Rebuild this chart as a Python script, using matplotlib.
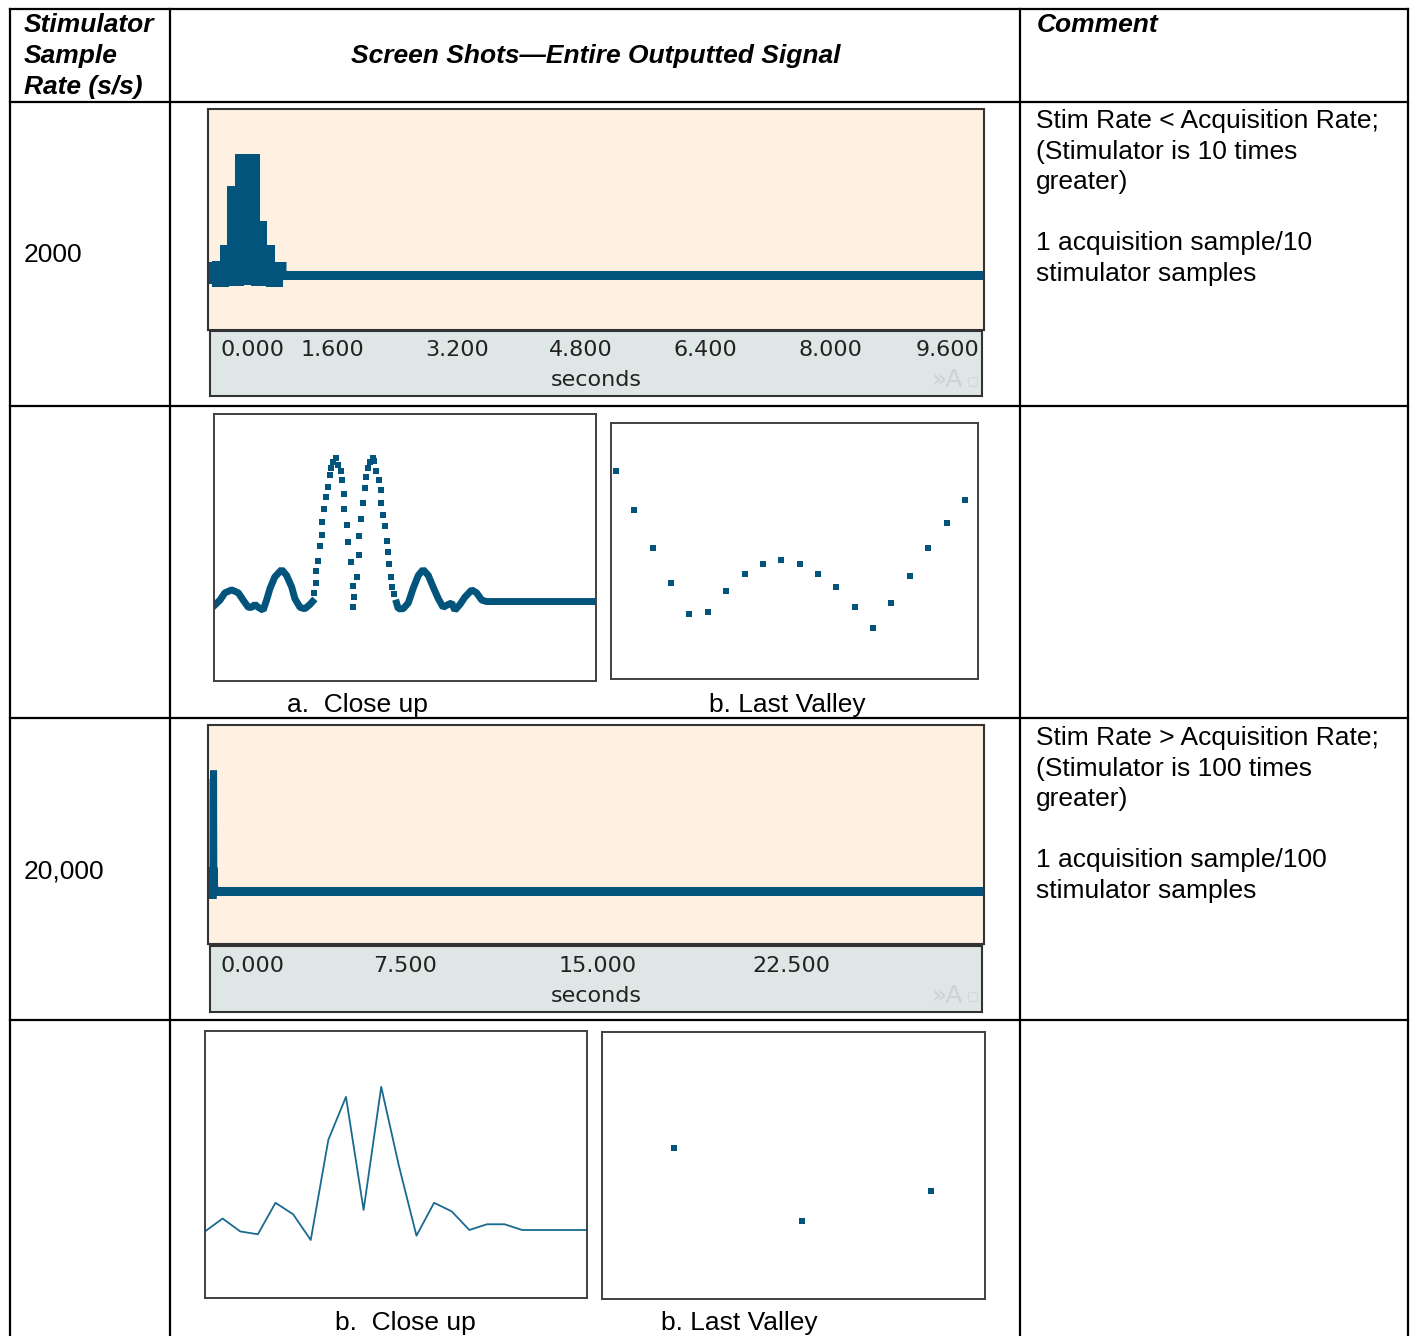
import matplotlib
matplotlib.use("Agg")
import numpy as np
import matplotlib.pyplot as plt
from matplotlib.transforms import blended_transform_factory, offset_copy

plt.rcParams['font.family'] = ['Liberation Sans', 'DejaVu Sans']

# ---------------- data ----------------
row_rates = ["2000", "20,000"]

# close-up a (2000 s/s): slow parts drawn as a thick trace, steep part as single samples
closeup_a_slow1_t = [0, 21, 38, 62, 85, 102, 120, 132, 143, 155, 172, 184, 196, 213, 237,
                     254, 272, 283, 301, 318, 336, 345]
closeup_a_slow1_v = [-0.02, 0.02, 0.07, 0.09, 0.07, 0.02, -0.03, -0.03, -0.01, -0.03, -0.05,
                     0.02, 0.10, 0.18, 0.23, 0.19, 0.11, 0.03, -0.03, -0.04, -0.01, 0.01]
closeup_a_dots_t = [351, 357, 357, 365, 371, 378, 378, 385, 392, 400,
                    406, 408, 418, 427, 435, 443, 449, 455, 456, 464,
                    470, 478, 485, 485, 490, 499, 506, 506, 513, 520,
                    527, 532, 538, 546, 555, 561, 567, 577, 583, 583,
                    590, 598, 604, 610, 611, 618, 623, 631]
closeup_a_dots_v = [0.07, 0.14, 0.22, 0.29, 0.39, 0.47, 0.56, 0.65, 0.73, 0.80,
                    0.88, 0.93, 0.97, 1.00, 0.95, 0.91, 0.85, 0.75, 0.65, 0.54,
                    0.42, 0.28, 0.12, -0.03, 0.04, 0.18, 0.33, 0.46, 0.58, 0.69,
                    0.79, 0.87, 0.93, 0.97, 1.00, 0.98, 0.91, 0.85, 0.78, 0.69,
                    0.61, 0.53, 0.43, 0.35, 0.27, 0.18, 0.11, 0.06]
closeup_a_slow2_t = [639, 645, 662, 680, 697, 715, 732, 750, 767, 785, 802, 820, 832, 843,
                     861, 878, 902, 919, 937, 954, 1340]
closeup_a_slow2_v = [0.00, -0.04, -0.04, 0.00, 0.10, 0.19, 0.23, 0.19, 0.11, 0.03, -0.03,
                     -0.01, 0.00, -0.05, -0.01, 0.04, 0.09, 0.07, 0.02, 0.01, 0.01]

# last valley a (2000 s/s)
valley_a_idx = [1, 2, 3, 4, 5, 6, 7, 8, 9, 10, 11, 12, 13, 14, 15, 16, 17, 18, 19, 20]
valley_a_v = [208, 169, 131, 96, 65, 67, 88, 105, 115, 119, 115, 105, 92, 72, 51, 76, 103,
              131, 156, 179]

# close-up b (20,000 s/s)
closeup_b_t = [0, 62, 124, 186, 248, 310, 372, 434, 496, 558, 620, 682, 744, 806, 868, 930,
               992, 1054, 1116, 1178, 1240, 1302, 1364]
closeup_b_v = [-0.01, 0.08, -0.01, -0.03, 0.19, 0.11, -0.07, 0.63, 0.93, 0.14, 1.00, 0.45,
               -0.04, 0.19, 0.13, 0.00, 0.04, 0.04, 0.00, 0.00, 0.00, 0.00, 0.00]

# last valley b (20,000 s/s)
valley_b_idx = [1, 2, 3]
valley_b_v = [151, 78, 108]

# axis ticks of the full-signal screenshots
ticks_2000 = [0.0, 1.6, 3.2, 4.8, 6.4, 8.0, 9.6]
ticklabels_2000 = ["0.000", "1.600", "3.200", "4.800", "6.400", "8.000", "9.600"]
ticks_20000 = [0.0, 7.5, 15.0, 22.5]
ticklabels_20000 = ["0.000", "7.500", "15.000", "22.500"]

comment_2000 = ["Stim Rate < Acquisition Rate;", "(Stimulator is 10 times", "greater)", "",
                "1 acquisition sample/10", "stimulator samples"]
comment_20000 = ["Stim Rate > Acquisition Rate;", "(Stimulator is 100 times", "greater)", "",
                 "1 acquisition sample/100", "stimulator samples"]

# ---------------- style ----------------
SIG = '#02547C'
PEACH = '#FEF1E2'
STRIP = '#DEE6E6'
FS = 19

W, H = 1416, 1336
fig = plt.figure(figsize=(W / 100, H / 100), dpi=100)


def px_axes(x0, y0, x1, y1, **kw):
    return fig.add_axes([x0 / W, 1 - y1 / H, (x1 - x0) / W, (y1 - y0) / H], **kw)


# ---------------- table ----------------
tab = px_axes(0, 0, W, H)
tab.set_xlim(0, W)
tab.set_ylim(H, 0)
tab.axis('off')
lw_tab = 1.6
for yy in [9, 102, 406, 718, 1020]:
    tab.plot([10, 1408], [yy, yy], color='black', lw=lw_tab, solid_capstyle='projecting')
for xx in [10, 170, 1020, 1408]:
    tab.plot([xx, xx], [9, H + 5], color='black', lw=lw_tab, solid_capstyle='projecting')

hdr = dict(fontsize=FS, fontweight='bold', fontstyle='italic', va='center')
for i, line in enumerate(["Stimulator", "Sample", "Rate (s/s)"]):
    tab.text(24, 25 + i * 31, line, ha='left', **hdr)
tab.text(596, 56, "Screen Shots\u2014Entire Outputted Signal", ha='center', **hdr)
tab.text(1037, 25, "Comment", ha='left', **hdr)

tab.text(24, 255, row_rates[0], fontsize=FS, va='center', ha='left')
tab.text(24, 871, row_rates[1], fontsize=FS, va='center', ha='left')

for i, line in enumerate(comment_2000):
    tab.text(1036, 121 + i * 30.6, line, fontsize=FS, va='center', ha='left')
for i, line in enumerate(comment_20000):
    tab.text(1036, 738 + i * 30.6, line, fontsize=FS, va='center', ha='left')

tab.text(357, 705, "a.  Close up", fontsize=FS, va='center', ha='center')
tab.text(787, 705, "b. Last Valley", fontsize=FS, va='center', ha='center')
tab.text(405, 1323, "b.  Close up", fontsize=FS, va='center', ha='center')
tab.text(739, 1323, "b. Last Valley", fontsize=FS, va='center', ha='center')


def style_box(ax, face='white', color='#404040', lw=1.4):
    ax.set_facecolor(face)
    ax.set_xticks([])
    ax.set_yticks([])
    for s in ax.spines.values():
        s.set_color(color)
        s.set_linewidth(lw)


def strip_labels(ax_main, ax_strip, ticks, labels):
    trans = blended_transform_factory(ax_main.transData, ax_strip.transAxes)
    xmin, xmax = ax_main.get_xlim()
    x0p, x1p = ax_strip.get_position().x0 * W, ax_strip.get_position().x1 * W
    m0 = ax_main.get_position().x0 * W
    m1 = ax_main.get_position().x1 * W
    kw = dict(va='center', fontsize=16, family='DejaVu Sans', color='#222222')
    for v, lab in zip(ticks, labels):
        cpx = m0 + (v - xmin) / (xmax - xmin) * (m1 - m0)
        half = 4.2 * len(lab) + 10
        if cpx - half < x0p + 4:
            tr = offset_copy(ax_strip.transAxes, fig=fig, x=10, y=0, units='dots')
            ax_strip.text(0, 0.70, lab, transform=tr, ha='left', **kw)
        elif cpx + half > x1p - 2:
            tr = offset_copy(ax_strip.transAxes, fig=fig, x=-3, y=0, units='dots')
            ax_strip.text(1, 0.70, lab, transform=tr, ha='right', **kw)
        else:
            ax_strip.text(v, 0.70, lab, transform=trans, ha='center', **kw)
    ax_strip.text(0.5, 0.24, "seconds", transform=ax_strip.transAxes, ha='center', **kw)
    ax_strip.text(0.955, 0.24, "\u00bbA", transform=ax_strip.transAxes, ha='center',
                  va='center', fontsize=18, family='DejaVu Sans', color='#CDD3D3')
    ax_strip.text(0.988, 0.24, "\u25a2", transform=ax_strip.transAxes, ha='center',
                  va='center', fontsize=9, family='DejaVu Sans', color='#CDD3D3')


# combined 2000 s/s trace (all samples, time order)
all_a = sorted(zip(closeup_a_slow1_t + closeup_a_dots_t + closeup_a_slow2_t[:-1],
                   closeup_a_slow1_v + closeup_a_dots_v + closeup_a_slow2_v[:-1]))
full_a_t = np.array([t / 1000.0 for t, _ in all_a])
full_a_v = np.array([v for _, v in all_a])

# screen-rendered envelope (min/max of the samples falling in each display bin)
bin_w = 0.1
edges = np.arange(0.0, full_a_t.max(), bin_w)
env_lo, env_hi = [], []
for e in edges:
    m = (full_a_t >= e) & (full_a_t < e + bin_w)
    env_lo.append(full_a_v[m].min() if m.any() else 0.0)
    env_hi.append(full_a_v[m].max() if m.any() else 0.0)
env_x = np.append(edges, edges[-1] + bin_w)
env_lo = np.append(env_lo, env_lo[-1])
env_hi = np.append(env_hi, env_hi[-1])

# ---------------- row 1: full signal 2000 ----------------
ax1 = px_axes(208, 109, 984, 330)
style_box(ax1, PEACH, '#333333', 1.5)
ax1.set_xlim(0, 9.98)
ax1.set_ylim(-0.45, 1.41)
ax1.fill_between(env_x, env_lo, env_hi, step='post', color=SIG, lw=0)
ax1.plot(env_x, env_hi, drawstyle='steps-post', color=SIG, lw=6.5,
         solid_joinstyle='miter', solid_capstyle='butt')
ax1.plot(env_x, env_lo, drawstyle='steps-post', color=SIG, lw=6.5,
         solid_joinstyle='miter', solid_capstyle='butt')
ax1.plot([env_x[-1], ax1.get_xlim()[1]], [full_a_v[-1], full_a_v[-1]], color=SIG, lw=6.5)

st1 = px_axes(210, 331, 982, 396)
style_box(st1, STRIP, '#333333', 1.5)
st1.set_xlim(0, 1)
strip_labels(ax1, st1, ticks_2000, ticklabels_2000)

# ---------------- row 2: close-up a and last valley a ----------------
ax2 = px_axes(214, 414, 596, 681)
style_box(ax2)
ax2.set_xlim(0, 1337)
ax2.set_ylim(-0.538, 1.303)
ax2.plot(closeup_a_slow1_t, closeup_a_slow1_v, color=SIG, lw=5, solid_joinstyle='bevel')
ax2.plot(closeup_a_slow2_t, closeup_a_slow2_v, color=SIG, lw=5, solid_joinstyle='bevel')
ax2.plot(closeup_a_dots_t, closeup_a_dots_v, ls='none', marker='s', ms=4.2, mew=0, color=SIG)

ax3 = px_axes(611, 423, 978, 679)
style_box(ax3)
ax3.set_xlim(0.73, 20.71)
ax3.set_ylim(0, 256)
ax3.plot(valley_a_idx, valley_a_v, ls='none', marker='s', ms=4.2, mew=0, color=SIG)

# ---------------- row 3: full signal 20,000 ----------------
ax4 = px_axes(208, 725, 984, 944)
style_box(ax4, PEACH, '#333333', 1.5)
ax4.set_xlim(-0.155, 30.0)
ax4.set_ylim(-0.446, 1.38)
full_b_t = [t / 10000.0 for t in closeup_b_t]
ax4.plot(full_b_t, closeup_b_v, color=SIG, lw=5.0, solid_joinstyle='bevel')
ax4.plot([full_b_t[-1], ax4.get_xlim()[1]], [closeup_b_v[-1], closeup_b_v[-1]], color=SIG, lw=6.5)

st2 = px_axes(210, 946, 982, 1012)
style_box(st2, STRIP, '#333333', 1.5)
st2.set_xlim(0, 1)
strip_labels(ax4, st2, ticks_20000, ticklabels_20000)

# ---------------- row 4: close-up b and last valley b ----------------
ax5 = px_axes(205, 1031, 587, 1298)
style_box(ax5)
ax5.set_xlim(0, 1344)
ax5.set_ylim(-0.475, 1.39)
ax5.plot(closeup_b_t, closeup_b_v, color='#1A6A90', lw=1.3)

ax6 = px_axes(602, 1032, 985, 1299)
style_box(ax6)
ax6.set_xlim(0.439, 3.424)
ax6.set_ylim(0, 267)
ax6.plot(valley_b_idx, valley_b_v, ls='none', marker='s', ms=4.2, mew=0, color=SIG)

fig.savefig("out.png", dpi=100)
